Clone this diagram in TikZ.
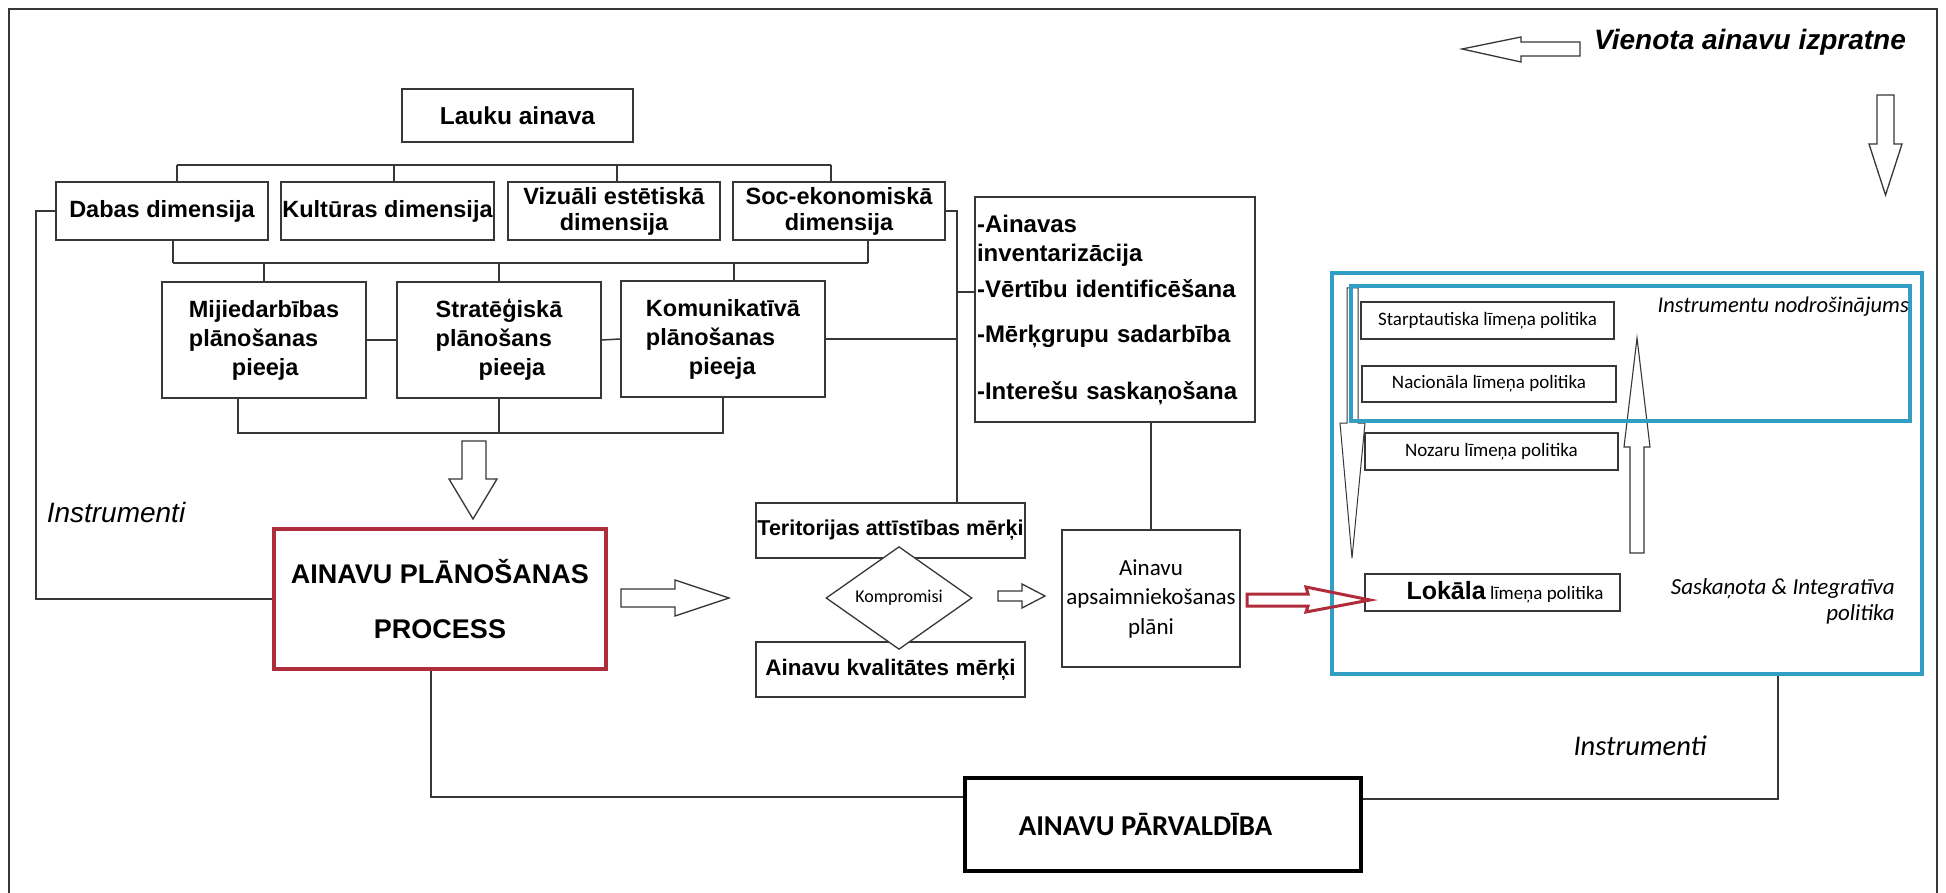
\documentclass[tikz,border=0pt]{standalone}
\usepackage{fontspec}
\setmainfont{Liberation Sans}
\newfontfamily\calfont{Carlito}
\usetikzlibrary{shapes.geometric}
\definecolor{dk}{RGB}{55,55,55}
\definecolor{redb}{RGB}{175,45,58}
\definecolor{blueb}{RGB}{50,158,196}
\begin{document}
\begin{tikzpicture}[x=1pt,y=-1pt,
  bx/.style={draw=dk,line width=1.6pt,fill=white,inner sep=0pt,align=center,font=\bfseries\fontsize{23.5}{26}\selectfont},
  apbox/.style={bx,align=left,font=\bfseries\fontsize{23.5}{29}\selectfont},
  pol/.style={draw=dk,line width=1.4pt,fill=white,inner sep=0pt,font=\calfont\fontsize{19}{22}\selectfont},
  con/.style={draw=dk,line width=1.5pt},
  harrow/.style={draw=dk,line width=1.3pt,fill=white,line join=miter},
  bluebox/.style={draw=blueb,line width=4.5pt,inner sep=0pt}]
\useasboundingbox (0,0) rectangle (1946,893);
\fill[white] (0,0) rectangle (1946,893);
% frame
\draw[dk,line width=1.5pt] (9,893) -- (9,9) -- (1937,9) -- (1937,893);

% top texts and arrows
\node[font=\bfseries\itshape\fontsize{28}{32}\selectfont,anchor=base west,inner sep=0pt] (vien) at (1594,50) {Vienota ainavu izpratne};
\draw[harrow] (1462,49) -- (1521,37) -- (1521,42) -- (1580,42) -- (1580,56) -- (1521,56) -- (1521,62) -- cycle;
\draw[harrow] (1877,95) -- (1894,95) -- (1894,144) -- (1902,144) -- (1885.5,195) -- (1869,144) -- (1877,144) -- cycle;

% hierarchy
\node[bx,minimum width=231,minimum height=53,font=\bfseries\fontsize{24.5}{28}\selectfont] (lauku) at (517.5,115.5) {Lauku ainava};
\node[bx,minimum width=212,minimum height=58] (dabas) at (162,211) {Dabas dimensija};
\node[bx,minimum width=213,minimum height=58] (kult) at (387.5,211) {Kultūras dimensija};
\node[bx,minimum width=212,minimum height=58] (vizu) at (614,211) {Vizuāli estētiskā\\dimensija};
\node[bx,minimum width=212,minimum height=58] (soc) at (839,211) {Soc-ekonomiskā\\dimensija};

\coordinate (t1) at (177,165);
\coordinate (t2) at (394,165);
\coordinate (t3) at (617,165);
\coordinate (t4) at (831,165);
\draw[con] (t1) -- (t4);
\draw[con] (t1) -- (t1 |- dabas.north);
\draw[con] (t2) -- (t2 |- kult.north);
\draw[con] (t3) -- (t3 |- vizu.north);
\draw[con] (t4) -- (t4 |- soc.north);

\node[apbox,minimum width=204,minimum height=116] (mij) at (264,340) {Mijiedarbības\\plānošanas\\\hspace*{43pt}pieeja};
\node[apbox,minimum width=204,minimum height=116] (strat) at (499,340) {Stratēģiskā\\plānošans\\\hspace*{43pt}pieeja};
\node[apbox,minimum width=204,minimum height=116] (kom) at (723,339) {Komunikatīvā\\plānošanas\\\hspace*{43pt}pieeja};

\coordinate (m1) at (173,263);
\coordinate (m4) at (734,263);
\coordinate (m5) at (868,263);
\draw[con] (m1) -- (m5);
\draw[con] (m1) -- (m1 |- dabas.south);
\draw[con] (m5) -- (m5 |- soc.south);
\draw[con] (mij.north) -- (mij.north |- m1);
\draw[con] (strat.north) -- (strat.north |- m1);
\draw[con] (m4) -- (m4 |- kom.north);
\draw[con] (mij.east) -- (strat.west);
\draw[con] (strat.east) -- (kom.west);

\coordinate (b1) at (238,433);
\coordinate (b3) at (723,433);
\draw[con] (b1 |- mij.south) -- (b1) -- (b3) -- (b3 |- kom.south);
\draw[con] (strat.south) -- (strat.south |- b1);

\draw[harrow] (462,441) -- (486,441) -- (486,479) -- (497,479) -- (473,519) -- (449,479) -- (462,479) -- cycle;

% list box
\node[draw=dk,line width=1.6pt,fill=white,minimum width=280,minimum height=225,inner xsep=2pt,inner ysep=0pt,text width=276,align=left,font=\bfseries\fontsize{24}{29}\selectfont] (list) at (1115,309.5)
 {-Ainavas\\inventarizācija\\[7pt]-Vērtību identificēšana\\[16pt]-Mērķgrupu sadarbība\\[28pt]-Interešu saskaņošana};

% process
\node[draw=redb,line width=4pt,fill=white,minimum width=332,minimum height=140,inner sep=0pt,align=center,font=\bfseries\fontsize{27}{55}\selectfont] (proc) at (440,599) {AINAVU PLĀNOŠANAS\\PROCESS};
\node[font=\itshape\fontsize{28}{32}\selectfont,inner sep=0pt] (instrL) at (116,512) {Instrumenti};

\coordinate (lx) at (36,0);
\draw[con] (dabas.west) -- (dabas.west -| lx) |- (proc.west);

\coordinate (vx) at (957,0);
\coordinate (lv) at (957,292);
\node[bx,minimum width=269,minimum height=55,font=\bfseries\fontsize{21.5}{26}\selectfont] (terit) at (890.5,530.5) {Teritorijas attīstības mērķi};
\node[bx,minimum width=269,minimum height=55,font=\bfseries\fontsize{22.5}{26}\selectfont] (kval) at (890.5,669.5) {Ainavu kvalitātes mērķi};
\node[diamond,draw=dk,line width=1.3pt,fill=white,minimum width=146,minimum height=76,inner sep=0pt,font=\calfont\fontsize{18}{20}\selectfont] (komp) at (899,598) {Kompromisi};
\draw[con] (soc.east) -| (vx |- terit.north);
\draw[con] (kom.east) -- (kom.east -| vx);
\draw[con] (lv) -- (lv -| list.west);

\draw[harrow] (621,589) -- (675,589) -- (675,580) -- (729,598) -- (675,616) -- (675,607) -- (621,607) -- cycle;
\draw[harrow] (998,591) -- (1022,591) -- (1022,584) -- (1045,596) -- (1022,608) -- (1022,601) -- (998,601) -- cycle;

\node[draw=dk,line width=1.6pt,fill=white,minimum width=178,minimum height=137,inner sep=0pt,align=center,font=\calfont\fontsize{23}{29.5}\selectfont] (plani) at (1151,598.5) {Ainavu\\apsaimniekošanas\\plāni};
\draw[con] (plani.north) -- (plani.north |- list.south);

% policy area
\draw[harrow,line width=1pt] (1347,288) -- (1358,288) -- (1358,423) -- (1365,423) -- (1352,558) -- (1340,423) -- (1347,423) -- cycle;
\draw[harrow,line width=1.1pt] (1630,553) -- (1644,553) -- (1644,447) -- (1650,447) -- (1637,338) -- (1624,447) -- (1630,447) -- cycle;
\node[bluebox,minimum width=590,minimum height=401] (blueout) at (1627,473.5) {};
\node[bluebox,minimum width=559,minimum height=135] (bluein) at (1630.5,353.5) {};

\node[pol,minimum width=253,minimum height=37] (starp) at (1487.5,320.5) {Starptautiska līmeņa politika};
\node[pol,minimum width=254,minimum height=36] (nac) at (1489,384) {Nacionāla līmeņa politika};
\node[pol,minimum width=253,minimum height=37] (noz) at (1491.5,451.5) {Nozaru līmeņa politika};
\node[pol,minimum width=255,minimum height=37] (lok) at (1492.5,592.5) {\hspace*{25pt}{\rmfamily\bfseries\fontsize{25}{28}\selectfont Lokāla} līmeņa politika};

\node[font=\calfont\itshape\fontsize{22.5}{26}\selectfont,anchor=east,inner sep=0pt] (instnod) at (1909,307) {Instrumentu nodrošinājums};
\node[font=\calfont\itshape\fontsize{23}{26}\selectfont,align=right,anchor=east,inner sep=0pt] (sask) at (1895,601) {Saskaņota \& Integratīva\\politika};

\draw[draw=redb,line width=3pt,line join=miter] (1247,594) -- (1308,594) -- (1306,587) -- (1370,600) -- (1306,612) -- (1308,606) -- (1247,606) -- cycle;

% governance
\node[draw=black,line width=4pt,fill=white,minimum width=396,minimum height=93,inner sep=0pt,font=\calfont\bfseries\fontsize{28.8}{32}\selectfont] (parv) at (1163,824.5) {\hspace*{-35pt}AINAVU PĀRVALDĪBA};
\node[font=\calfont\itshape\fontsize{28.5}{31}\selectfont,inner sep=0pt] (instrR) at (1640,746) {Instrumenti};
\coordinate (pb) at (431,797);
\coordinate (pr) at (1778,799);
\draw[con] (pb |- proc.south) -- (pb) -- (pb -| parv.west);
\draw[con] (pr -| parv.east) -- (pr) -- (pr |- blueout.south);
\end{tikzpicture}
\end{document}
